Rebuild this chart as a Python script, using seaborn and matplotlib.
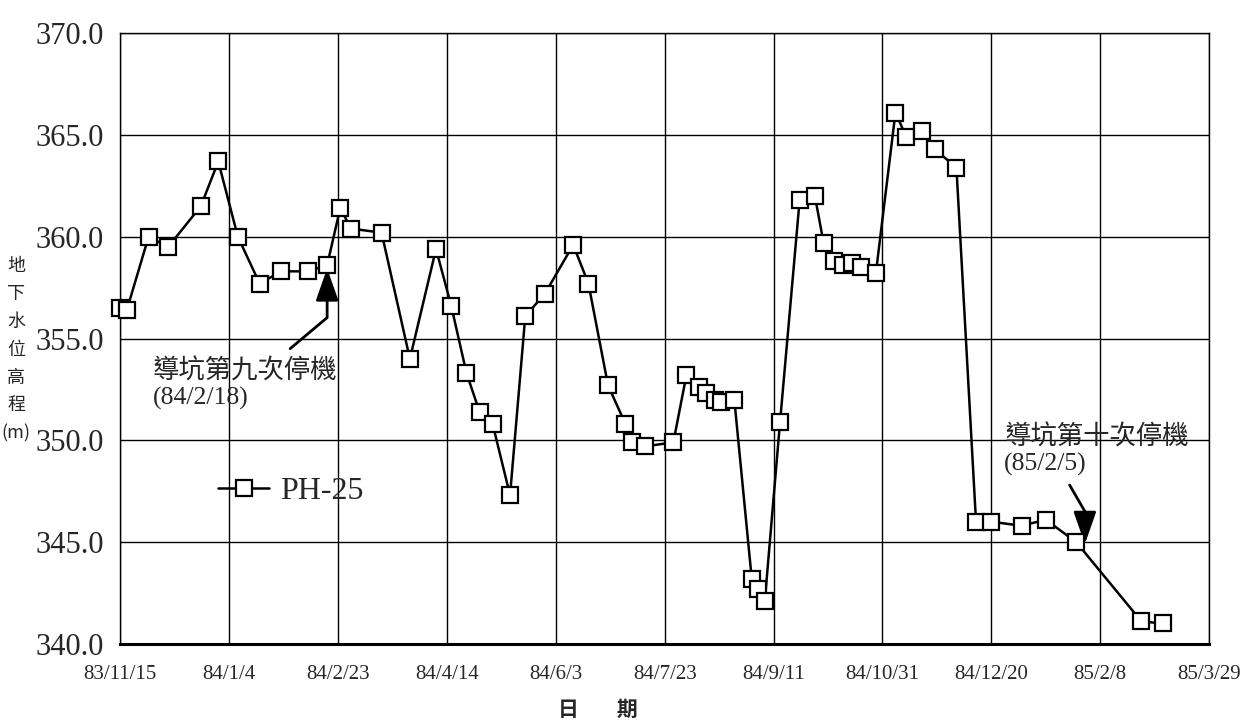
import datetime as dt
import matplotlib
matplotlib.use("Agg")
import matplotlib.pyplot as plt
import pandas as pd
import seaborn as sns

# ---- data (ROC calendar dates, groundwater elevation in m) ----
dates_roc = [
    "83/11/15", "83/11/18", "83/11/28", "83/12/7", "83/12/22", "83/12/30",
    "84/1/8", "84/1/18", "84/1/28", "84/2/9", "84/2/18", "84/2/24",
    "84/3/1", "84/3/15", "84/3/28", "84/4/9", "84/4/16", "84/4/23",
    "84/4/29", "84/5/5", "84/5/13", "84/5/20", "84/5/29", "84/6/11",
    "84/6/18", "84/6/27", "84/7/5", "84/7/8", "84/7/14", "84/7/27",
    "84/8/2", "84/8/8", "84/8/11", "84/8/15", "84/8/18", "84/8/24",
    "84/9/1", "84/9/4", "84/9/7", "84/9/14", "84/9/23", "84/9/30",
    "84/10/4", "84/10/9", "84/10/13", "84/10/17", "84/10/21", "84/10/28",
    "84/11/6", "84/11/11", "84/11/18", "84/11/24", "84/12/4", "84/12/13",
    "84/12/20", "85/1/3", "85/1/14", "85/1/28", "85/2/27", "85/3/8",
]
levels = [
    356.5, 356.4, 360.0, 359.5, 361.5, 363.7,
    360.0, 357.7, 358.3, 358.3, 358.6, 361.4,
    360.4, 360.2, 354.0, 359.4, 356.6, 353.3,
    351.4, 350.8, 347.3, 356.1, 357.2, 359.6,
    357.7, 352.7, 350.8, 349.9, 349.7, 349.9,
    353.2, 352.6, 352.3, 352.0, 351.9, 352.0,
    343.2, 342.7, 342.1, 350.9, 361.8, 362.0,
    359.7, 358.8, 358.6, 358.7, 358.5, 358.2,
    366.1, 364.9, 365.2, 364.3, 363.4, 346.0,
    346.0, 345.8, 346.1, 345.0, 341.1, 341.0,
]
series_name = "PH-25"
x_tick_labels = ["83/11/15", "84/1/4", "84/2/23", "84/4/14", "84/6/3", "84/7/23",
                 "84/9/11", "84/10/31", "84/12/20", "85/2/8", "85/3/29"]
y_ticks = [340, 345, 350, 355, 360, 365, 370]
note1_title, note1_date = "導坑第九次停機", "(84/2/18)"
note2_title, note2_date = "導坑第十次停機", "(85/2/5)"
x_label = "日        期"
y_label = "地\n下\n水\n位\n高\n程\n(m)"


def roc(s):
    y, m, d = map(int, s.split("/"))
    return pd.Timestamp(dt.date(y + 1911, m, d))


df = pd.DataFrame({"date": [roc(s) for s in dates_roc], "level": levels})
tick_pos = [roc(s) for s in x_tick_labels]

sns.set_style("white")
plt.rcParams["font.family"] = ["Liberation Serif", "Noto Sans CJK TC", "DejaVu Sans"]

fig = plt.figure(figsize=(12.4, 7.21), dpi=100)
ax = fig.add_axes([0.097, 0.107, 0.878, 0.847])

sns.lineplot(data=df, x="date", y="level", ax=ax, color="black", linewidth=1.8,
             marker="s", markersize=12, markerfacecolor="white",
             markeredgecolor="black", markeredgewidth=1.6, label=series_name,
             clip_on=False, zorder=5)

ax.set_xlim(tick_pos[0], tick_pos[-1])
ax.set_ylim(340, 370)
ax.set_xticks(tick_pos)
ax.set_xticklabels(x_tick_labels, fontsize=15)
ax.set_yticks(y_ticks)
ax.set_yticklabels([f"{v:.1f}" for v in y_ticks], fontsize=22)
ax.tick_params(axis="both", length=0)
ax.tick_params(axis="x", pad=15)
ax.tick_params(axis="y", pad=12)
ax.grid(True, color="black", linewidth=1.0)
ax.set_axisbelow(True)
for side in ["top", "right", "left"]:
    ax.spines[side].set_color("black")
    ax.spines[side].set_linewidth(1.0)
ax.spines["bottom"].set_color("black")
ax.spines["bottom"].set_linewidth(2.2)
ax.set_xlabel("")
ax.set_ylabel("")

ax.legend(loc=(0.078, 0.205), frameon=False, fontsize=23, handlelength=1.6,
          handletextpad=0.35)

# annotations
cjk = ["Noto Sans CJK TC"]
ax.text(roc("83/11/30"), 353.4, note1_title, fontsize=19, family=cjk,
        va="center", ha="left")
ax.text(roc("83/11/30"), 352.05, note1_date, fontsize=18.5,
        family=["Liberation Serif"], va="center", ha="left")
ax.annotate("", xy=(roc("84/2/18"), 358.45), xytext=(roc("84/2/1"), 354.5),
            arrowprops=dict(arrowstyle="-|>,head_length=1.0,head_width=0.35",
                            mutation_scale=20, color="black", lw=2.0,
                            connectionstyle="angle,angleA=40,angleB=90,rad=0",
                            shrinkA=0, shrinkB=0))

ax.text(roc("84/12/26"), 350.15, note2_title, fontsize=19, family=cjk,
        va="center", ha="left")
ax.text(roc("84/12/26"), 348.8, note2_date, fontsize=18.5,
        family=["Liberation Serif"], va="center", ha="left")
ax.annotate("", xy=(roc("85/2/1"), 344.9), xytext=(roc("85/1/25"), 347.8),
            arrowprops=dict(arrowstyle="-|>,head_length=1.0,head_width=0.35",
                            mutation_scale=20, color="black", lw=2.0,
                            connectionstyle="angle,angleA=-60,angleB=90,rad=0",
                            shrinkA=0, shrinkB=0))

fig.text(598 / 1240, 1 - 709 / 721, x_label, fontsize=15, fontweight="bold",
         family=["Noto Sans CJK TC"], ha="center", va="center")
fig.text(16 / 1240, 1 - 350 / 721, y_label, fontsize=13,
         family=["Noto Sans CJK TC"], ha="center", va="center", linespacing=1.7)

fig.savefig("out.png", dpi=100)
